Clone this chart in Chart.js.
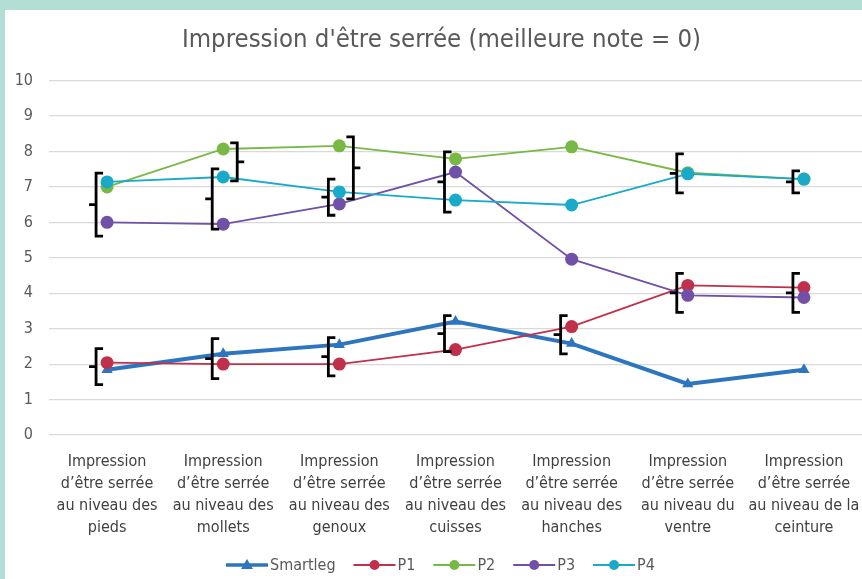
<!DOCTYPE html>
<html>
<head>
<meta charset="utf-8">
<script src="https://cdn.jsdelivr.net/npm/chart.js@4.4.1/dist/chart.umd.min.js"></script>
<style>
  html, body { margin: 0; padding: 0; background: #b2ded5; }
  #frame { position: absolute; left: 5px; top: 10px; width: 857px; height: 569px; background: #fff; }
  canvas { display: block; }
</style>
</head>
<body>
<div id="frame"><canvas id="chart" width="857" height="569"></canvas></div>
<script>
const FONT = "'Liberation Sans Narrow', 'DejaVu Sans Condensed', 'Liberation Sans', sans-serif";

// categories (multi-line labels)
const categories = [
  ["Impression", "d\u2019être serrée", "au niveau des", "pieds"],
  ["Impression", "d\u2019être serrée", "au niveau des", "mollets"],
  ["Impression", "d\u2019être serrée", "au niveau des", "genoux"],
  ["Impression", "d\u2019être serrée", "au niveau des", "cuisses"],
  ["Impression", "d\u2019être serrée", "au niveau des", "hanches"],
  ["Impression", "d\u2019être serrée", "au niveau du", "ventre"],
  ["Impression", "d\u2019être serrée", "au niveau de la", "ceinture"]
];

// series values
const smartleg = [1.84, 2.29, 2.55, 3.2, 2.58, 1.44, 1.84];
const p1 = [2.04, 2.0, 2.0, 2.41, 3.06, 4.22, 4.16];
const p2 = [7.0, 8.07, 8.16, 7.79, 8.13, 7.4, 7.22];
const p3 = [6.0, 5.95, 6.52, 7.42, 4.96, 3.94, 3.88];
const p4 = [7.14, 7.28, 6.86, 6.63, 6.49, 7.37, 7.22];

// y ticks
const yTicks = [0, 1, 2, 3, 4, 5, 6, 7, 8, 9, 10];

// annotation braces: category index, low value, high value, side
const braceCat = [0, 0, 1, 1, 1, 2, 2, 2, 3, 3, 4, 5, 5, 6, 6];
const braceLow = [5.61, 1.42, 5.81, 7.17, 1.59, 6.2, 6.66, 1.67, 6.29, 2.35, 2.29, 6.83, 3.46, 6.83, 3.46];
const braceHigh = [7.39, 2.44, 7.51, 8.24, 2.72, 7.22, 8.41, 2.75, 7.99, 3.37, 3.37, 7.93, 4.56, 7.45, 4.56];
const braceSide = ["L", "L", "L", "R", "L", "L", "R", "L", "L", "L", "L", "L", "L", "L", "L"];

const seriesNames = ["Smartleg", "P1", "P2", "P3", "P4"];
const seriesColors = ["#2e75c0", "#c0304a", "#78b845", "#7150a8", "#19a9c9"];

function makeSet(i, data) {
  const isMain = i === 0;
  return {
    label: seriesNames[i],
    data: data,
    borderColor: seriesColors[i],
    backgroundColor: seriesColors[i],
    borderWidth: isMain ? 4 : 1.8,
    pointStyle: isMain ? 'triangle' : 'circle',
    pointRadius: 6.5,
    pointBorderWidth: 0,
    tension: 0,
    order: i === 0 ? 5 : 5 - i
  };
}

// y labels are clipped to the axis box, so widen the box after layout
const axisClipFix = {
  id: 'axisClipFix',
  afterLayout(chart) { chart.scales.y.left = 0; }
};

const bracePlugin = {
  id: 'braces',
  afterDatasetsDraw(chart) {
    const ctx = chart.ctx;
    const xs = chart.scales.x, ys = chart.scales.y;
    ctx.save();
    ctx.strokeStyle = '#000';
    ctx.lineWidth = 2.8;
    ctx.lineCap = 'butt';
    ctx.lineJoin = 'miter';
    for (let i = 0; i < braceCat.length; i++) {
      const left = braceSide[i] === 'L';
      const x = xs.getPixelForValue(braceCat[i]) + (left ? -11 : 14);
      const y1 = ys.getPixelForValue(braceHigh[i]);
      const y2 = ys.getPixelForValue(braceLow[i]);
      const ym = (y1 + y2) / 2;
      const d = left ? 1 : -1;
      ctx.beginPath();
      ctx.moveTo(x + d * 7, y1);
      ctx.lineTo(x, y1);
      ctx.lineTo(x, y2);
      ctx.lineTo(x + d * 7, y2);
      ctx.moveTo(x, ym);
      ctx.lineTo(x - d * 7, ym);
      ctx.stroke();
    }
    ctx.restore();
  }
};

const legendPlugin = {
  id: 'lineLegend',
  afterDraw(chart) {
    const ctx = chart.ctx;
    ctx.save();
    ctx.font = '16px ' + FONT;
    ctx.textBaseline = 'middle';
    const lineW = 42, gap = 2, itemGap = 18;
    let x = 221;
    const y = 555;
    seriesNames.forEach((name, i) => {
      const c = seriesColors[i];
      ctx.strokeStyle = c;
      ctx.fillStyle = c;
      ctx.lineWidth = i === 0 ? 3.5 : 2;
      ctx.beginPath();
      ctx.moveTo(x, y);
      ctx.lineTo(x + lineW, y);
      ctx.stroke();
      const cx = x + lineW / 2;
      ctx.beginPath();
      if (i === 0) {
        ctx.moveTo(cx, y - 6);
        ctx.lineTo(cx + 6, y + 4);
        ctx.lineTo(cx - 6, y + 4);
        ctx.closePath();
      } else {
        ctx.arc(cx, y, 5, 0, Math.PI * 2);
      }
      ctx.fill();
      ctx.fillStyle = '#595959';
      ctx.fillText(name, x + lineW + gap, y + 1);
      x += lineW + gap + ctx.measureText(name).width + itemGap;
    });
    ctx.restore();
  }
};

new Chart(document.getElementById('chart'), {
  type: 'line',
  data: {
    labels: categories,
    datasets: [
      makeSet(0, smartleg),
      makeSet(1, p1),
      makeSet(2, p2),
      makeSet(3, p3),
      makeSet(4, p4)
    ]
  },
  options: {
    responsive: false,
    animation: false,
    layout: { autoPadding: false, padding: { left: 16, right: 0, top: 0, bottom: 32 } },
    plugins: {
      legend: { display: false },
      tooltip: { enabled: false },
      title: {
        display: true,
        text: "Impression d'être serrée (meilleure note = 0)",
        color: '#595959',
        font: { family: FONT, size: 25.5, weight: 'normal' },
        padding: { top: 15, bottom: 25 }
      }
    },
    scales: {
      x: {
        offset: true,
        grid: { display: false },
        border: { display: false },
        afterFit(axis) { axis.paddingLeft = 0; axis.paddingRight = 0; },
        ticks: {
          color: '#404040',
          font: { family: FONT, size: 16, lineHeight: 1.375 },
          maxRotation: 0,
          autoSkip: false,
          padding: 8
        }
      },
      y: {
        min: 0,
        max: 10,
        afterBuildTicks(axis) { axis.ticks = yTicks.map(v => ({ value: v })); },
        afterFit(axis) { axis.width = 28; },
        grid: { color: '#d9d9d9', lineWidth: 1.2, drawTicks: false },
        border: { display: false },
        ticks: {
          color: '#595959',
          font: { family: FONT, size: 16 },
          padding: 16
        }
      }
    }
  },
  plugins: [axisClipFix, bracePlugin, legendPlugin]
});
</script>
</body>
</html>
